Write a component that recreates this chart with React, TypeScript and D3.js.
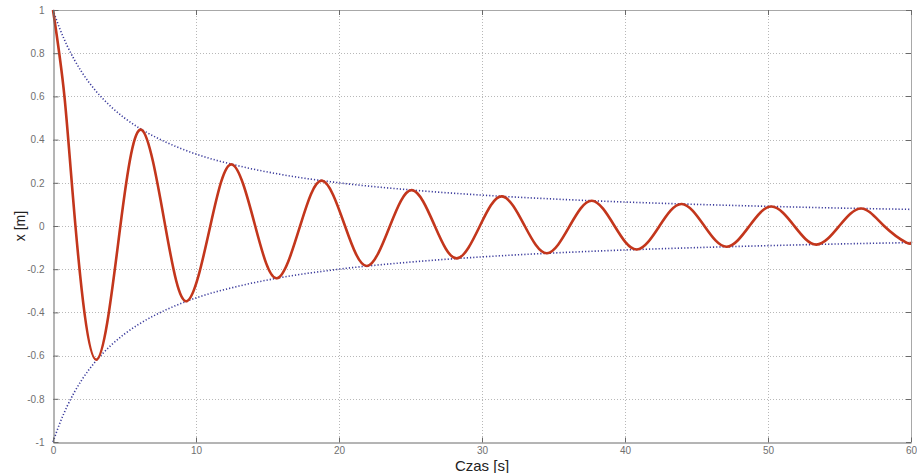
import * as d3 from "d3";
import React, { useEffect, useRef } from "react";

// red curve: extremes + zero crossings
const timeS = [0, 0.8, 1.57, 3.02, 4.71, 6.2, 7.85, 9.36, 11.0, 12.51, 14.14, 15.66, 17.28, 18.81, 20.42, 21.96, 23.56, 25.1, 26.7, 28.24, 29.85, 31.39, 32.99, 34.54, 36.13, 37.68, 39.27, 40.82, 42.41, 43.96, 45.55, 47.11, 48.7, 50.25, 51.84, 53.39, 54.98, 56.53, 58.12, 59.68, 60];
const posM = [1, 0.6, 0, -0.619, 0, 0.445, 0, -0.348, 0, 0.285, 0, -0.242, 0, 0.21, 0, -0.185, 0, 0.166, 0, -0.15, 0, 0.137, 0, -0.126, 0, 0.117, 0, -0.109, 0, 0.102, 0, -0.096, 0, 0.09, 0, -0.086, 0, 0.081, 0, -0.077, -0.073];

// dotted envelope
const envT = [0, 0.5, 1, 1.5, 2, 3, 4, 5, 6, 8, 10, 13, 16, 20, 25, 30, 35, 40, 45, 50, 55, 60];
const envUpper = [1, 0.909, 0.833, 0.769, 0.714, 0.625, 0.556, 0.5, 0.455, 0.385, 0.333, 0.278, 0.238, 0.2, 0.167, 0.143, 0.125, 0.111, 0.1, 0.091, 0.083, 0.077];
const envLower = [-1, -0.909, -0.833, -0.769, -0.714, -0.625, -0.556, -0.5, -0.455, -0.385, -0.333, -0.278, -0.238, -0.2, -0.167, -0.143, -0.125, -0.111, -0.1, -0.091, -0.083, -0.077];

const xTicks = [0, 10, 20, 30, 40, 50, 60];
const yTicks = [1, 0.8, 0.6, 0.4, 0.2, 0, -0.2, -0.4, -0.6, -0.8, -1];

const W = 917;
const H = 473;
const left = 53, right = 911, top = 10, bottom = 442;

export default function App() {
  const svgRef = useRef<SVGSVGElement>(null);

  useEffect(() => {
    const x = d3.scaleLinear().domain([0, 60]).range([left, right]);
    const y = d3.scaleLinear().domain([-1, 1]).range([bottom, top]);

    const svg = d3.select(svgRef.current);
    svg.selectAll("*").remove();

    svg.append("rect").attr("width", W).attr("height", H).attr("fill", "#fff");

    // grid
    const grid = svg.append("g").attr("stroke", "#b8b8b8").attr("stroke-width", 1).attr("stroke-dasharray", "1,2");
    grid.selectAll("line.gx")
      .data(xTicks.filter((d) => d > 0 && d < 60))
      .enter().append("line")
      .attr("x1", (d) => x(d) + 0.5).attr("x2", (d) => x(d) + 0.5)
      .attr("y1", top).attr("y2", bottom);
    grid.selectAll("line.gy")
      .data(yTicks.filter((d) => d > -1 && d < 1))
      .enter().append("line")
      .attr("x1", left).attr("x2", right)
      .attr("y1", (d) => Math.round(y(d)) + 0.5).attr("y2", (d) => Math.round(y(d)) + 0.5);

    // envelope
    const envLine = d3.line<number>()
      .x((d, i) => x(envT[i]))
      .y((d) => y(d))
      .curve(d3.curveMonotoneX);
    [envUpper, envLower].forEach((arr) => {
      svg.append("path")
        .attr("d", envLine(arr))
        .attr("fill", "none")
        .attr("stroke", "#3b3b9c")
        .attr("stroke-width", 1.6)
        .attr("stroke-dasharray", "1.2,2");
    });

    // response
    const resp = d3.line<number>()
      .x((d, i) => x(timeS[i]))
      .y((d) => y(d))
      .curve(d3.curveNatural);
    svg.append("path")
      .attr("d", resp(posM))
      .attr("fill", "none")
      .attr("stroke", "#c3361c")
      .attr("stroke-width", 2.6)
      .attr("stroke-linejoin", "round");

    // box
    svg.append("line").attr("x1", left).attr("x2", right).attr("y1", top + 0.5).attr("y2", top + 0.5).attr("stroke", "#a8a8a8");
    svg.append("line").attr("x1", right + 0.5).attr("x2", right + 0.5).attr("y1", top).attr("y2", bottom).attr("stroke", "#a8a8a8");

    // axes with inward ticks
    const yAxis = d3.axisLeft(y).tickValues(yTicks).tickSizeInner(-5).tickSizeOuter(0).tickPadding(9)
      .tickFormat((d) => String(d));
    const gy = svg.append("g").attr("transform", `translate(${left + 0.5},0)`).call(yAxis);
    const xAxis = d3.axisBottom(x).tickValues(xTicks).tickSizeInner(-5).tickSizeOuter(0).tickPadding(4)
      .tickFormat((d) => String(d));
    const gx = svg.append("g").attr("transform", `translate(0,${bottom + 0.5})`).call(xAxis);
    [gx, gy].forEach((g) => {
      g.select(".domain").attr("stroke", "#6a6a6a");
      g.selectAll(".tick line").attr("stroke", "#6a6a6a");
      g.selectAll(".tick text").attr("fill", "#707070").attr("font-size", 10).attr("font-family", "Arial, 'Liberation Sans', sans-serif");
    });

    // ticks on top and right
    svg.selectAll("line.tr")
      .data(yTicks)
      .enter().append("line")
      .attr("x1", right - 5).attr("x2", right)
      .attr("y1", (d) => Math.round(y(d)) + 0.5).attr("y2", (d) => Math.round(y(d)) + 0.5)
      .attr("stroke", "#6a6a6a");
    svg.selectAll("line.tt")
      .data(xTicks)
      .enter().append("line")
      .attr("x1", (d) => x(d) + 0.5).attr("x2", (d) => x(d) + 0.5)
      .attr("y1", top).attr("y2", top + 5)
      .attr("stroke", "#6a6a6a");

    // labels
    svg.append("text")
      .attr("x", (left + right) / 2)
      .attr("y", 471)
      .attr("text-anchor", "middle")
      .attr("font-size", 15)
      .attr("font-family", "Arial, 'Liberation Sans', sans-serif")
      .attr("fill", "#222")
      .text("Czas [s]");
    svg.append("text")
      .attr("transform", `translate(25,${y(0)}) rotate(-90)`)
      .attr("text-anchor", "middle")
      .attr("font-size", 14)
      .attr("font-family", "Arial, 'Liberation Sans', sans-serif")
      .attr("fill", "#222")
      .text("x [m]");
  }, []);

  return (
    <svg
      ref={svgRef}
      width={W}
      height={H}
      viewBox={`0 0 ${W} ${H}`}
      style={{ position: "absolute", left: 0, top: 0, display: "block" }}
    />
  );
}
